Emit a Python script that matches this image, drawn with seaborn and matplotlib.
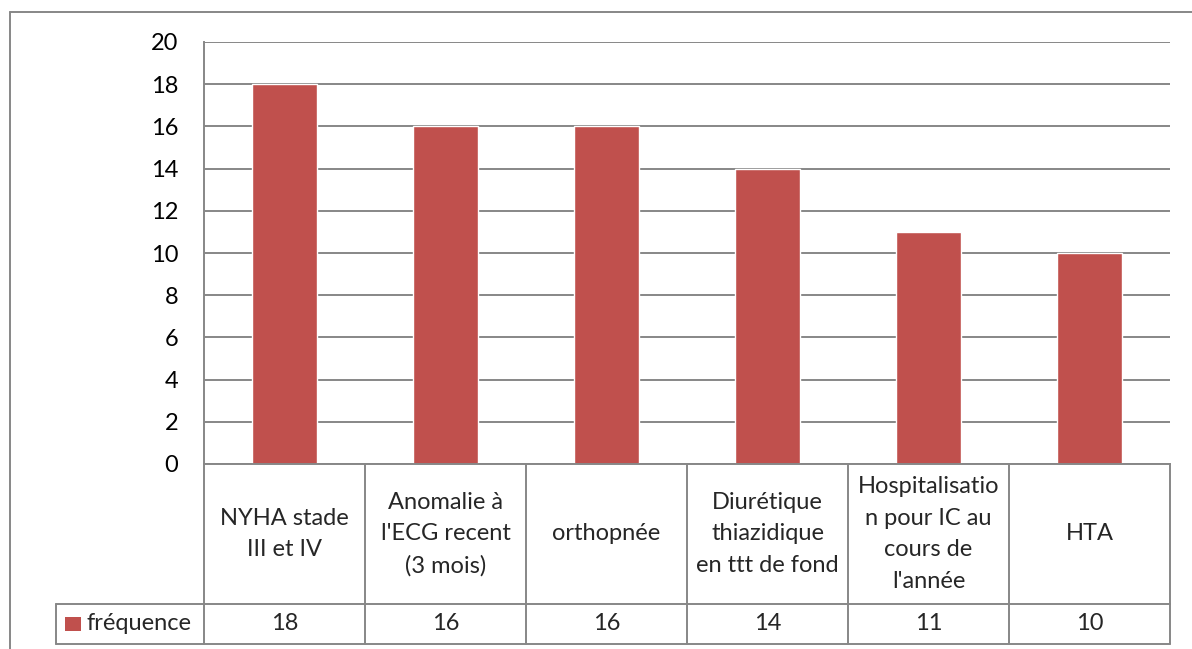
import matplotlib
matplotlib.use("Agg")
import matplotlib.pyplot as plt
from matplotlib.lines import Line2D
from matplotlib.patches import Rectangle
import seaborn as sns

# data
categories = ["NYHA stade\nIII et IV",
              "Anomalie à\nl'ECG recent\n(3 mois)",
              "orthopnée",
              "Diurétique\nthiazidique\nen ttt de fond",
              "Hospitalisatio\nn pour IC au\ncours de\nl'année",
              "HTA"]
values = [18, 16, 16, 14, 11, 10]
series_name = "fréquence"
y_ticks = [0, 2, 4, 6, 8, 10, 12, 14, 16, 18, 20]

BAR = "#C0504D"
GRID = "#878787"
W, H = 1192, 649

sns.set_theme(style="white")
plt.rcParams["font.family"] = ["Lato", "DejaVu Sans"]
FS = 17

fig = plt.figure(figsize=(W / 100, H / 100), dpi=100)
ax = fig.add_axes([204 / W, 1 - 464 / H, 966 / W, 422 / H])

sns.barplot(x=categories, y=values, color=BAR, saturation=1, width=0.4, ax=ax)

ax.set_xlim(-0.5, len(categories) - 0.5)
ax.set_ylim(0, 20)
ax.set_yticks(y_ticks)
ax.set_xticks([])
ax.set_xlabel("")
ax.set_ylabel("")
ax.yaxis.grid(True, color=GRID, linewidth=1.4)
ax.set_axisbelow(True)
ax.tick_params(axis="y", length=0, pad=18.5, labelsize=FS, colors="black")
for side in ["top", "right"]:
    ax.spines[side].set_visible(False)
for side in ["left", "bottom"]:
    ax.spines[side].set_color(GRID)
    ax.spines[side].set_linewidth(1.4)

# data table below the plot
tr = ax.get_xaxis_transform()
row1 = -(604 - 464) / 422
row2 = -(644 - 464) / 422
x_left = -0.5 - 148 / 161
x_right = len(categories) - 0.5
line_kw = dict(color=GRID, linewidth=1.4, transform=tr, clip_on=False)

for i in range(len(categories) + 1):
    ax.plot([i - 0.5, i - 0.5], [0, row2], **line_kw)
ax.plot([x_left, x_right], [row1, row1], **line_kw)
ax.plot([x_left, x_right], [row2, row2], **line_kw)
ax.plot([x_left, x_left], [row1, row2], **line_kw)

for i, (cat, val) in enumerate(zip(categories, values)):
    ax.text(i, row1 / 2, cat, transform=tr, ha="center", va="center",
            fontsize=FS, linespacing=1.62, clip_on=False)
    ax.text(i, (row1 + row2) / 2, str(val), transform=tr, ha="center",
            va="center", fontsize=FS, clip_on=False)

# legend key in the table
fig.add_artist(Rectangle((65 / W, 1 - 631 / H), 16 / W, 14 / H,
                         facecolor=BAR, edgecolor="none"))
fig.text(86 / W, 1 - 624 / H, series_name, ha="left", va="center", fontsize=FS)

# outer chart frame (cropped on the right and bottom)
fig.add_artist(Line2D([10 / W, 10 / W], [0, 1 - 12 / H], color=GRID, linewidth=1.4))
fig.add_artist(Line2D([10 / W, 1], [1 - 12 / H, 1 - 12 / H], color=GRID, linewidth=1.4))

fig.savefig("out.png", dpi=100)
